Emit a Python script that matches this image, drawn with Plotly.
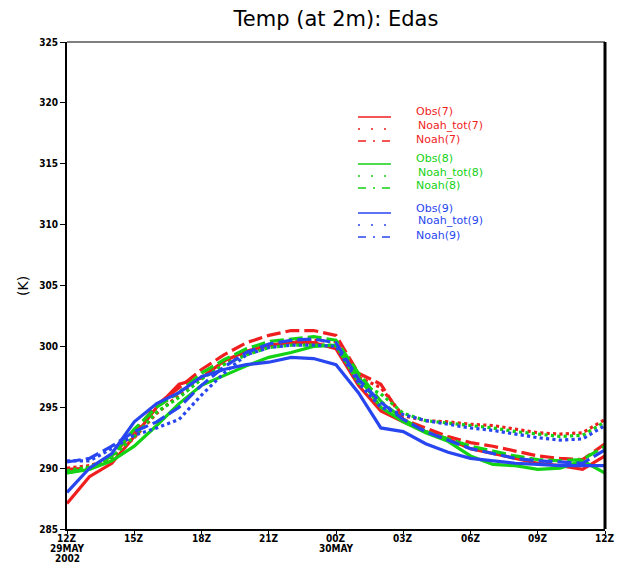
import plotly.graph_objects as go

hours = list(range(25))
tick_vals = [0, 3, 6, 9, 12, 15, 18, 21, 24]
tick_text = ["12Z", "15Z", "18Z", "21Z", "00Z", "03Z", "06Z", "09Z", "12Z"]
date_pos = [0, 0, 12]
date_text = ["29MAY", "2002", "30MAY"]
date_line = [1, 2, 1]
y_ticks = [285, 290, 295, 300, 305, 310, 315, 320, 325]

obs7 = [287.1, 289.3, 290.4, 292.6, 295.0, 296.9, 297.4, 298.8, 299.6, 300.1, 300.3, 300.3, 299.8,
        296.8, 294.7, 293.8, 293.0, 292.4, 291.6, 291.2, 290.8, 290.4, 290.2, 289.9, 291.0]
tot7 = [290.0, 290.2, 290.8, 292.5, 294.5, 296.0, 297.5, 298.6, 299.4, 300.0, 300.4, 300.5, 300.4,
        297.5, 296.6, 294.3, 293.9, 293.8, 293.6, 293.5, 293.2, 292.9, 292.8, 292.9, 294.0]
noah7 = [289.9, 290.0, 291.0, 293.0, 295.2, 296.6, 298.1, 299.3, 300.3, 300.9, 301.3, 301.3, 300.9,
         297.8, 296.9, 294.0, 293.3, 292.6, 292.1, 291.8, 291.4, 291.0, 290.8, 290.7, 292.0]

obs8 = [289.6, 289.9, 290.6, 291.8, 293.5, 295.3, 296.8, 297.6, 298.4, 299.1, 299.5, 300.0, 300.1,
        297.5, 295.0, 293.8, 292.9, 292.2, 291.0, 290.3, 290.2, 289.9, 290.0, 290.6, 289.6]
tot8 = [289.8, 290.1, 290.9, 292.6, 294.6, 295.8, 297.3, 298.5, 299.3, 299.9, 300.1, 300.1, 300.1,
        297.0, 296.1, 294.5, 293.9, 293.7, 293.5, 293.3, 293.0, 292.8, 292.6, 292.7, 293.8]
noah8 = [289.6, 290.0, 291.0, 293.2, 295.0, 296.2, 297.8, 298.9, 299.8, 300.4, 300.6, 300.8, 300.5,
         297.8, 295.5, 294.0, 293.0, 292.4, 291.8, 291.4, 291.0, 290.7, 290.6, 290.7, 291.8]

obs9 = [288.0, 290.0, 291.2, 293.8, 295.3, 296.2, 297.5, 298.1, 298.5, 298.7, 299.1, 299.0, 298.5,
        296.2, 293.3, 293.0, 292.0, 291.3, 290.8, 290.6, 290.4, 290.3, 290.2, 290.2, 290.2]
tot9 = [290.6, 290.6, 291.6, 292.7, 293.3, 294.0, 296.0, 297.8, 299.3, 299.9, 300.1, 300.1, 300.0,
        297.0, 295.0, 294.4, 293.9, 293.6, 293.3, 293.1, 292.8, 292.5, 292.3, 292.4, 293.5]
noah9 = [290.5, 290.8, 291.8, 293.0, 293.8, 295.0, 296.8, 298.3, 299.5, 300.2, 300.5, 300.6, 300.3,
         297.3, 295.4, 294.0, 293.0, 292.3, 291.6, 291.2, 290.8, 290.6, 290.5, 290.4, 291.5]

RED = "rgb(240,30,30)"
GREEN = "rgb(20,210,20)"
BLUE = "rgb(40,70,240)"
DOT = "dot"
DASH = "14px,5px"

series = [
    ("Obs(7)", obs7, RED, "solid"), ("Noah_tot(7)", tot7, RED, DOT), ("Noah(7)", noah7, RED, DASH),
    ("Obs(8)", obs8, GREEN, "solid"), ("Noah_tot(8)", tot8, GREEN, DOT), ("Noah(8)", noah8, GREEN, DASH),
    ("Obs(9)", obs9, BLUE, "solid"), ("Noah_tot(9)", tot9, BLUE, DOT), ("Noah(9)", noah9, BLUE, DASH),
]

fig = go.Figure()
for name, vals, col, dash in series:
    fig.add_trace(go.Scatter(x=hours, y=vals, mode="lines", name=name,
                             line=dict(color=col, width=3.2, dash=dash), showlegend=False))

W, H = 630, 564
OFF = 7  # page offset of the figure on screen
L, R, T, B = 66, 604, 41, 528
def px(x): return (x - L) / (R - L)
def py(y): return 1 - (y - T) / (B - T)

shapes = []
annotations = []
leg_rows = [(116, 110), (128, 124), (140, 138),
            (163, 158), (175, 171), (187, 185),
            (212, 207), (224, 220), (236, 234)]
text_x = [413, 415, 413] * 3
for i, (name, vals, col, dash) in enumerate(series):
    ly, ty = leg_rows[i]
    shapes.append(dict(type="line", xref="paper", yref="paper",
                       x0=px(357), x1=px(390), y0=py(ly), y1=py(ly),
                       line=dict(color=col, width=1.5,
                                 dash="solid" if dash == "solid" else ("2px,11px" if dash == DOT else "8px,7px,2px,7px"))))
    annotations.append(dict(text=name, xref="paper", yref="paper", x=px(text_x[i]), y=py(ty),
                            xanchor="left", yanchor="middle", showarrow=False,
                            font=dict(family="DejaVu Sans", size=11, color=col)))

# x tick labels (time) placed on the x scale, plus date lines beneath
LBL_FONT = dict(family="DejaVu Sans Condensed", size=10, color="black")
for xp, txt in zip(tick_vals, tick_text):
    annotations.append(dict(text="<b>" + txt + "</b>", xref="x", yref="paper", x=xp,
                            y=py(537), xanchor="center", yanchor="middle",
                            showarrow=False, font=LBL_FONT))
for xp, txt, ln in zip(date_pos, date_text, date_line):
    annotations.append(dict(text="<b>" + txt + "</b>", xref="x", yref="paper", x=xp,
                            y=py(537 + 10 * ln), xanchor="center", yanchor="middle",
                            showarrow=False, font=LBL_FONT))

shapes.append(dict(type="line", xref="paper", yref="paper", x0=0, x1=1, y0=1, y1=1,
                   line=dict(color="black", width=1)))
shapes.append(dict(type="line", xref="paper", yref="paper", x0=1, x1=1, y0=0, y1=1,
                   line=dict(color="black", width=3)))

annotations.append(dict(text="(K)", xref="paper", yref="paper", x=px(22), y=py(285),
                        xanchor="center", yanchor="middle", textangle=-90, showarrow=False,
                        font=dict(family="DejaVu Sans", size=14, color="black")))

fig.update_layout(
    width=W, height=H,
    margin=dict(l=L - OFF, r=W - R + OFF, t=T - OFF, b=H - B + OFF, autoexpand=False),
    paper_bgcolor="white", plot_bgcolor="white",
    title=dict(text="Temp (at 2m): Edas", x=(335 - OFF) / W, xanchor="center",
               y=1 - (18 - OFF) / H, yanchor="middle", automargin=False,
               font=dict(family="DejaVu Sans", size=21, color="black")),
    xaxis=dict(range=[0, 24], tickvals=tick_vals, showticklabels=False, showgrid=False, zeroline=False,
               showline=True, linecolor="black", linewidth=2, ticks="outside", ticklen=3,
               tickcolor="black", automargin=False),
    yaxis=dict(range=[285, 325], tickvals=y_ticks, showgrid=False, zeroline=False,
               showline=True, linecolor="black", linewidth=2, ticks="outside", ticklen=5,
               tickcolor="black", automargin=False,
               tickfont=dict(family="DejaVu Sans Condensed", size=10, color="black", weight="bold")),
    shapes=shapes, annotations=annotations,
)
fig.write_html("out.html")
